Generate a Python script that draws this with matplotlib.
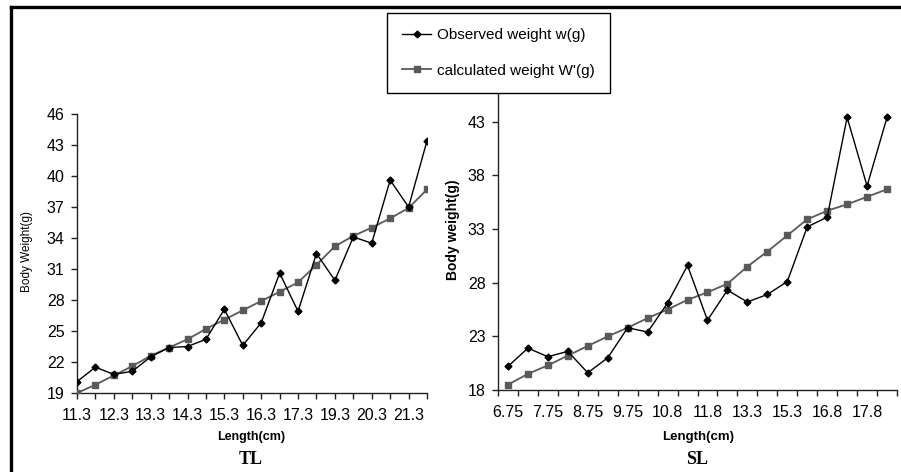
import numpy as np
import matplotlib
matplotlib.use("Agg")
import matplotlib.pyplot as plt
from matplotlib.lines import Line2D

plt.rcParams['font.family'] = ['Liberation Sans', 'DejaVu Sans']

# -- total length (TL) panel
tl_labels = ["11.3", "11.8", "12.3", "12.8", "13.3", "13.8", "14.3", "14.8", "15.3", "15.8",
             "16.3", "16.8", "17.3", "18.3", "19.3", "19.8", "20.3", "20.8", "21.3", "21.8"]
tl_obs = [20.1, 21.5, 20.8, 21.1, 22.5, 23.4, 23.5, 24.2, 27.1, 23.6,
          25.8, 30.6, 26.9, 32.5, 29.9, 34.1, 33.5, 39.6, 37.0, 43.4]
tl_calc = [19.0, 19.8, 20.7, 21.6, 22.6, 23.4, 24.2, 25.2, 26.1, 27.0,
           27.9, 28.8, 29.7, 31.4, 33.2, 34.2, 35.0, 35.9, 36.9, 38.7]

# -- standard length (SL) panel
sl_labels = ["6.75", "7.25", "7.75", "8.25", "8.75", "9.25", "9.75", "10.3", "10.8", "11.3",
             "11.8", "12.8", "13.3", "14.3", "15.3", "15.8", "16.8", "17.3", "17.8", "18.3"]
sl_obs = [20.2, 21.9, 21.1, 21.6, 19.6, 21.0, 23.8, 23.4, 26.1, 29.6,
          24.5, 27.3, 26.2, 26.9, 28.1, 33.2, 34.1, 43.4, 37.0, 43.4]
sl_calc = [18.5, 19.5, 20.3, 21.2, 22.1, 23.0, 23.8, 24.7, 25.5, 26.4,
           27.1, 27.9, 29.5, 30.9, 32.4, 33.9, 34.7, 35.3, 36.0, 36.7]

W, H = 901, 472
fig = plt.figure(figsize=(W / 100, H / 100), dpi=100)

def fx(px):
    return px / W

def fy(py):
    return 1 - py / H

ax1 = fig.add_axes([fx(77), fy(393), fx(427) - fx(77), fy(114) - fy(393)])
ax2 = fig.add_axes([fx(498), fy(390), fx(897) - fx(498), fy(68) - fy(390)])

obs_style = dict(color="black", lw=1.0, marker="D", ms=3.5, zorder=4)
calc_style = dict(color="#5a5a5a", lw=1.3, marker="s", ms=5, zorder=3)

# -- left panel
x1 = np.arange(len(tl_labels))
ax1.plot(x1, tl_calc, **calc_style)
ax1.plot(x1, tl_obs, **obs_style)
ax1.set_xlim(0, len(tl_labels) - 1)
ax1.set_ylim(19, 46)
ax1.set_yticks(np.arange(19, 47, 3))
ax1.set_xticks(x1)
ax1.set_xticklabels([l if i % 2 == 0 else "" for i, l in enumerate(tl_labels)])

# -- right panel (top of the axis runs under the legend)
x2 = np.arange(len(sl_labels))
ax2.plot(x2, sl_calc, **calc_style)
ax2.plot(x2, sl_obs, **obs_style)
ax2.set_xlim(-0.5, len(sl_labels) - 0.5)
ax2.set_ylim(18, 48)
ax2.set_yticks(np.arange(18, 44, 5))
ax2.set_xticks(np.arange(-0.5, len(sl_labels), 1.0))
ax2.set_xticklabels([])
ax2.set_xticks(x2[::2], minor=True)
ax2.set_xticklabels(sl_labels[::2], minor=True)
ax2.tick_params(axis="x", which="minor", length=0, pad=11, labelsize=11.5)

for ax in (ax1, ax2):
    for s in ("top", "right"):
        ax.spines[s].set_visible(False)
    for s in ("left", "bottom"):
        ax.spines[s].set_color("#222222")
        ax.spines[s].set_linewidth(1.0)
    ax.tick_params(axis="both", which="major", direction="out", length=4,
                   width=1.0, color="#222222", labelsize=11.5)
    ax.tick_params(axis="y", pad=5)
    ax.tick_params(axis="x", which="major", pad=7)

# -- axis titles
fig.text(fx(27), fy(252), "Body Weight(g)", rotation=90, ha="center", va="center", fontsize=8.5)
fig.text(fx(453), fy(230), "Body weight(g)", rotation=90, ha="center", va="center",
         fontsize=10, fontweight="bold")
fig.text(fx(251), fy(437), "Length(cm)", ha="center", va="center", fontsize=9, fontweight="bold")
fig.text(fx(698), fy(437), "Length(cm)", ha="center", va="center", fontsize=9.5, fontweight="bold")
fig.text(fx(251), fy(459), "TL", ha="center", va="center", fontsize=13, fontweight="bold",
         family="Liberation Serif")
fig.text(fx(697), fy(459), "SL", ha="center", va="center", fontsize=13, fontweight="bold",
         family="Liberation Serif")

# -- legend
handles = [Line2D([], [], **obs_style), Line2D([], [], **calc_style)]
leg = fig.legend(handles, ["Observed weight w(g)", "calculated weight W'(g)"],
                 loc="upper left", bbox_to_anchor=(fx(387), fy(13)), fontsize=11,
                 frameon=True, fancybox=False, framealpha=1, edgecolor="black",
                 borderpad=1.0, labelspacing=1.4, handlelength=1.9, handletextpad=0.35,
                 borderaxespad=0)
leg.get_frame().set_linewidth(1.0)

# -- outer frame (top and left only)
fig.add_artist(Line2D([fx(11), 1], [fy(7), fy(7)], color="black", lw=2.4))
fig.add_artist(Line2D([fx(11), fx(11)], [0, fy(7)], color="black", lw=2.4))

fig.savefig("out.png", dpi=100, facecolor="white")
